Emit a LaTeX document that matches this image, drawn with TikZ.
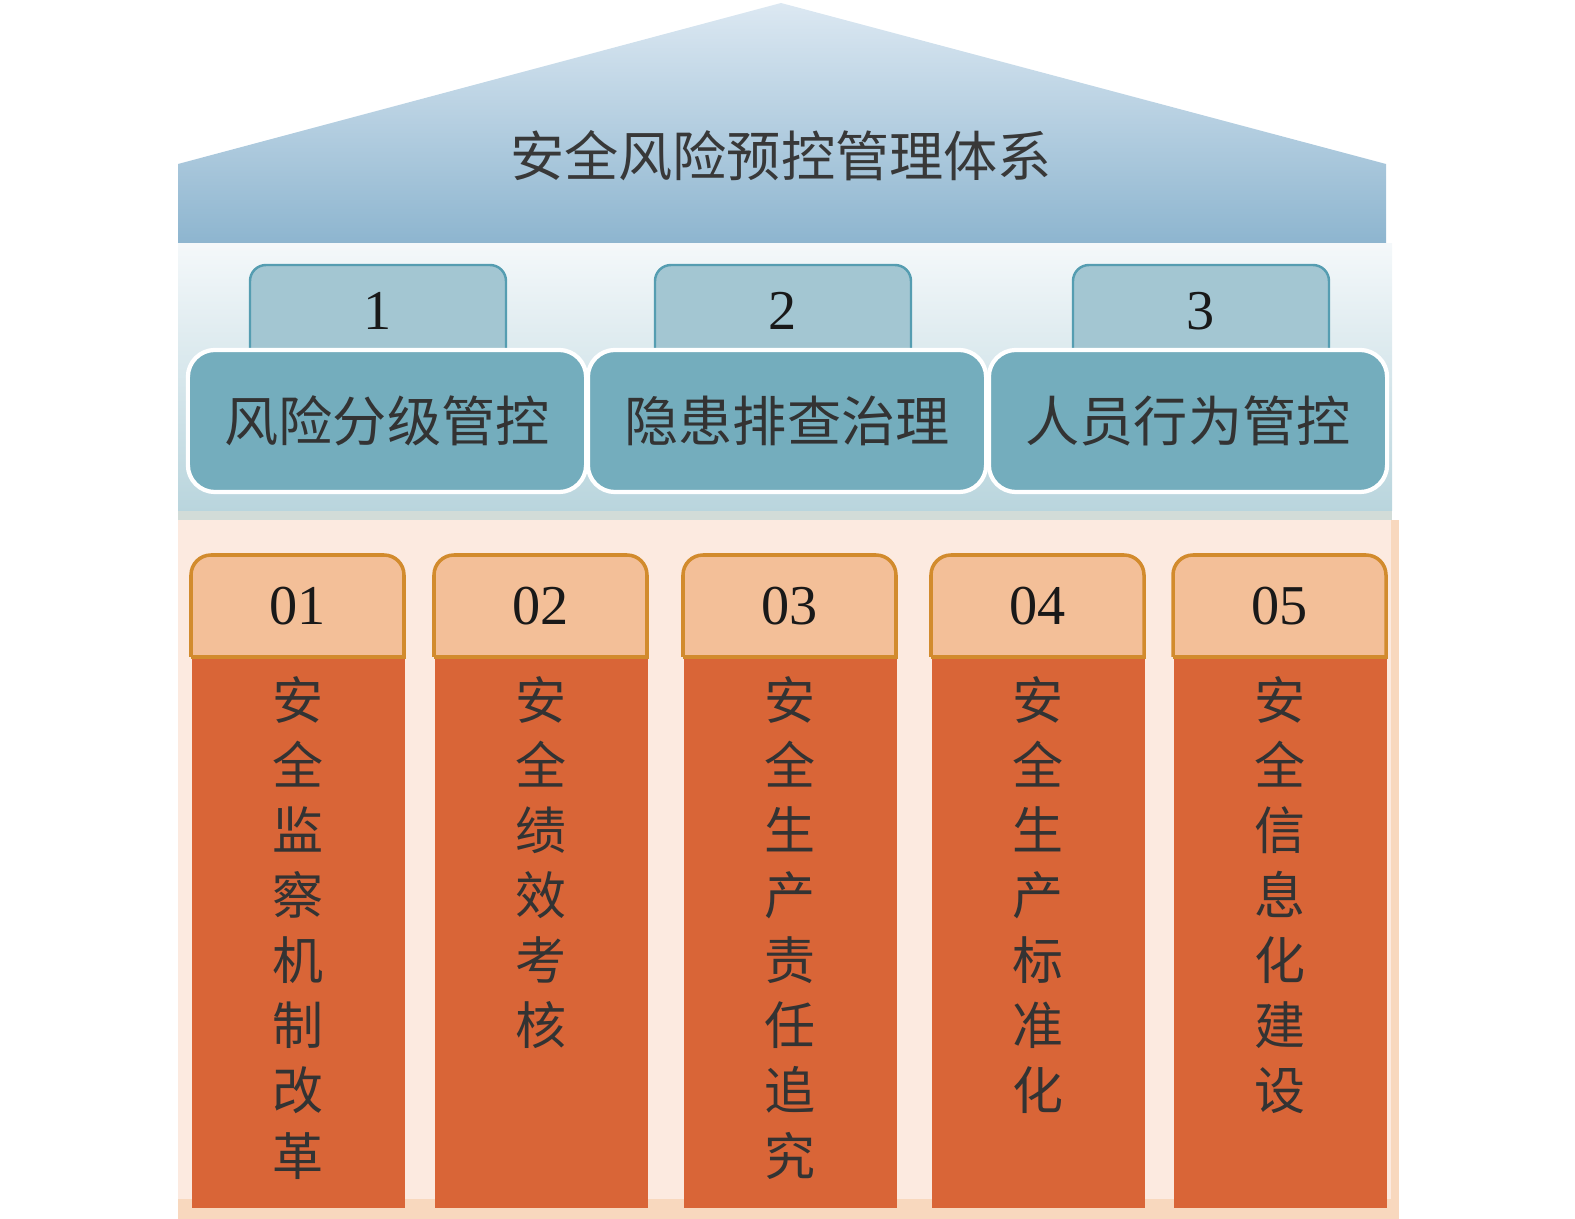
\documentclass[tikz,border=0pt]{standalone}
\usepackage{fontspec}
\setmainfont{Liberation Serif}
\newfontfamily\cjk{Noto Sans CJK SC}
\usetikzlibrary{positioning}

\definecolor{roofTop}{HTML}{DCE8F2}
\definecolor{roofBot}{HTML}{8DB5CF}
\definecolor{bandTop}{HTML}{F4F8FA}
\definecolor{bandBot}{HTML}{B9D5DD}
\definecolor{bandEdge}{HTML}{D2DCD8}
\definecolor{tabBlue}{HTML}{A3C6D2}
\definecolor{tabBlueLine}{HTML}{559DB1}
\definecolor{boxBlue}{HTML}{74ADBD}
\definecolor{peach}{HTML}{FCEAE0}
\definecolor{peachEdge}{HTML}{F8D8BE}
\definecolor{tabOrange}{HTML}{F3BF98}
\definecolor{tabOrangeLine}{HTML}{D28B2D}
\definecolor{pillarRed}{HTML}{D96537}

\begin{document}
\begin{tikzpicture}[x=0.01cm, y=-0.01cm]
\tikzstyle{title}=[font=\cjk\fontsize{15.4}{18}\selectfont, text=black!78]
\tikzstyle{stagetab}=[fill=tabBlue, draw=tabBlueLine, line width=0.7pt]
\tikzstyle{stage}=[rectangle, rounded corners=0.27cm, fill=boxBlue, draw=white, line width=1.2pt,
  minimum width=3.98cm, minimum height=1.42cm, inner sep=0pt,
  font=\cjk\fontsize{15.4}{18}\selectfont, text=black!80]
\tikzstyle{num}=[font=\fontsize{16}{19}\selectfont, text=black!90, inner sep=0pt]
\tikzstyle{coltab}=[fill=tabOrange, draw=tabOrangeLine, line width=1pt]
\tikzstyle{pillar}=[rectangle, fill=pillarRed, minimum width=2.13cm, minimum height=5.5cm, inner sep=0pt]
\tikzstyle{coltext}=[align=center, inner sep=0pt, text=black!80,
  font=\cjk\fontsize{14.5}{18.5}\selectfont]
\useasboundingbox (0,0) rectangle (1575,1219);

% roof
\shade[top color=roofTop, bottom color=roofBot] (178,244) -- (178,164) -- (781,3) -- (1386,164) -- (1386,244) -- cycle;
\node[title] (head) at (781,156) {安全风险预控管理体系};

% middle band
\shade[top color=bandTop, bottom color=bandBot] (178,244) rectangle (1392,511);
\fill[bandEdge] (178,511) rectangle (1392,520);

% lower band
\fill[peachEdge] (178,520) rectangle (1399,1219);
\fill[peach] (178,520) rectangle (1391,1199);

% three stages
\foreach \x/\n in {250/1, 655/2, 1073/3}
{
  \filldraw[stagetab] (\x,370) [rounded corners=0.16cm] -- (\x,265) -- (\x+256,265) -- (\x+256,370);
  \node[num] (t\n) at (\x+128,311) {\n};
}
\node[stage] (s1) at (387,421) {风险分级管控};
\node[stage] (s2) at (787,421) {隐患排查治理};
\node[stage] (s3) at (1188,421) {人员行为管控};

% five pillars
\foreach \x/\n/\t [count=\i] in {191/01/{安\\全\\监\\察\\机\\制\\改\\革},
  434/02/{安\\全\\绩\\效\\考\\核},
  683/03/{安\\全\\生\\产\\责\\任\\追\\究},
  931/04/{安\\全\\生\\产\\标\\准\\化},
  1173/05/{安\\全\\信\\息\\化\\建\\设}}
{
  \filldraw[coltab] (\x,657) [rounded corners=0.2cm] -- (\x,555) -- (\x+213,555) -- (\x+213,657);
  \node[num] (n\i) at (\x+106.5,606) {\n};
  \node[pillar, anchor=north west] (p\i) at (\x,657) {};
  \draw[tabOrangeLine, line width=1pt] (p\i.north west) -- (p\i.north east);
  \node[coltext, anchor=north] (c\i) at (\x+106.5,676) {\t};
}

\end{tikzpicture}
\end{document}
